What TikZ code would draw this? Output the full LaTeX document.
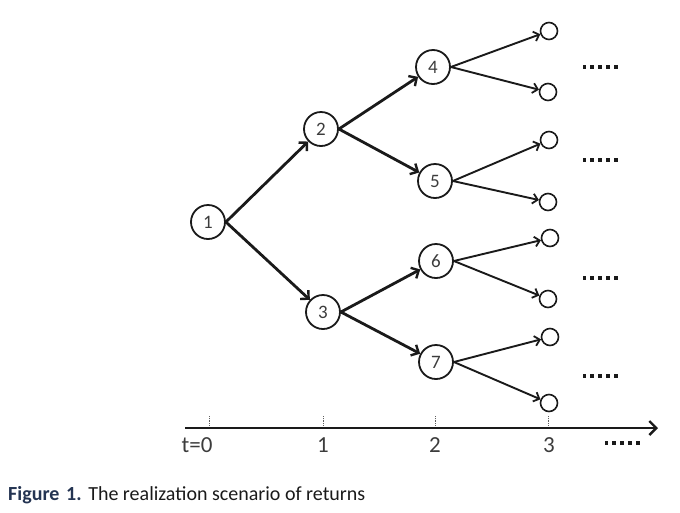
\documentclass[tikz,border=0pt]{standalone}
\usepackage{fontspec}
\setmainfont{Carlito}
\usetikzlibrary{arrows.meta}
\definecolor{ink}{HTML}{1A1A1A}
\definecolor{capblue}{HTML}{243452}
\newcommand{\sqdots}{\rule{3.8pt}{3.8pt}\hspace{4pt}\rule{3.8pt}{3.8pt}\hspace{4pt}\rule{3.8pt}{3.8pt}\hspace{4pt}\rule{3.8pt}{3.8pt}\hspace{4pt}\rule{3.8pt}{3.8pt}}
\begin{document}
\begin{tikzpicture}[x=1pt,y=-1pt,
  state/.style={circle,draw=ink,line width=1.8pt,minimum size=34pt,inner sep=0pt,font=\fontsize{19}{19}\selectfont,text=ink!85},
  leaf/.style={circle,draw=ink,line width=1.6pt,minimum size=17pt,inner sep=0pt},
  main/.style={draw=ink,line width=2.8pt,-{Straight Barb[length=6pt,width=12pt,line width=2.4pt]}},
  thin/.style={draw=ink,line width=1.9pt,-{Straight Barb[length=5pt,width=10pt,line width=1.8pt]}},
  more/.style={inner sep=0pt,text=ink},
  axlab/.style={font=\fontsize{23}{23}\selectfont,text=ink!85,inner sep=0pt},
  tick/.style={draw=ink!70,line width=0.8pt,densely dotted}]
\useasboundingbox (0,0) rectangle (680,512);
% states
\node[state] (n1) at (208,222) {1};
\node[state] (n2) at (321,129) {2};
\node[state] (n3) at (323,312) {3};
\node[state] (n4) at (433,67) {4};
\node[state] (n5) at (435,181) {5};
\node[state] (n6) at (436,261) {6};
\node[state] (n7) at (436,362) {7};
% leaves
\node[leaf] (l1) at (549,31) {};
\node[leaf] (l2) at (548,92) {};
\node[leaf] (l3) at (549,140) {};
\node[leaf] (l4) at (548,202) {};
\node[leaf] (l5) at (550,238) {};
\node[leaf] (l6) at (548,299) {};
\node[leaf] (l7) at (550,337) {};
\node[leaf] (l8) at (549,403) {};
% edges
\draw[main] (n1.east) -- (n2);
\draw[main] (n1.east) -- (n3);
\draw[main] (n2.east) -- (n4);
\draw[main] (n2.east) -- (n5);
\draw[main] (n3.east) -- (n6);
\draw[main] (n3.east) -- (n7);
\draw[thin] (n4.east) -- (l1);
\draw[thin] (n4.east) -- (l2);
\draw[thin] (n5.east) -- (l3);
\draw[thin] (n5.east) -- (l4);
\draw[thin] (n6.east) -- (l5);
\draw[thin] (n6.east) -- (l6);
\draw[thin] (n7.east) -- (l7);
\draw[thin] (n7.east) -- (l8);
% continuation marks
\node[more] (m1) at (600,67) {\sqdots};
\node[more] (m2) at (600,160) {\sqdots};
\node[more] (m3) at (600,278) {\sqdots};
\node[more] (m4) at (600,376) {\sqdots};
\node[more] (m5) at (622,443) {\sqdots};
% axis
\coordinate (a0) at (185,428);
\coordinate (a1) at (658,428);
\draw[draw=ink,line width=2.8pt,-{Straight Barb[length=7pt,width=14pt,line width=2.4pt]}] (a0) -- (a1);
\foreach \x/\nm in {209/t0,323/t1,435/t2,548/t3}{
  \coordinate (k\nm) at (\x,416);
  \coordinate (b\nm) at (\x,426);
  \draw[tick] (k\nm) -- (b\nm);
}
\node[axlab] (lt0) at (197,445) {t=0};
\node[axlab] (lt1) at (323,445) {1};
\node[axlab] (lt2) at (435,445) {2};
\node[axlab] (lt3) at (549,445) {3};
% caption
\node[anchor=base west,inner sep=0pt,font=\fontsize{20}{21}\selectfont] (cap) at (8,500) {\textcolor{capblue}{\textbf{Figure\,\,1.}}\,\,\textcolor{ink}{The realization scenario of returns}};
\end{tikzpicture}
\end{document}
